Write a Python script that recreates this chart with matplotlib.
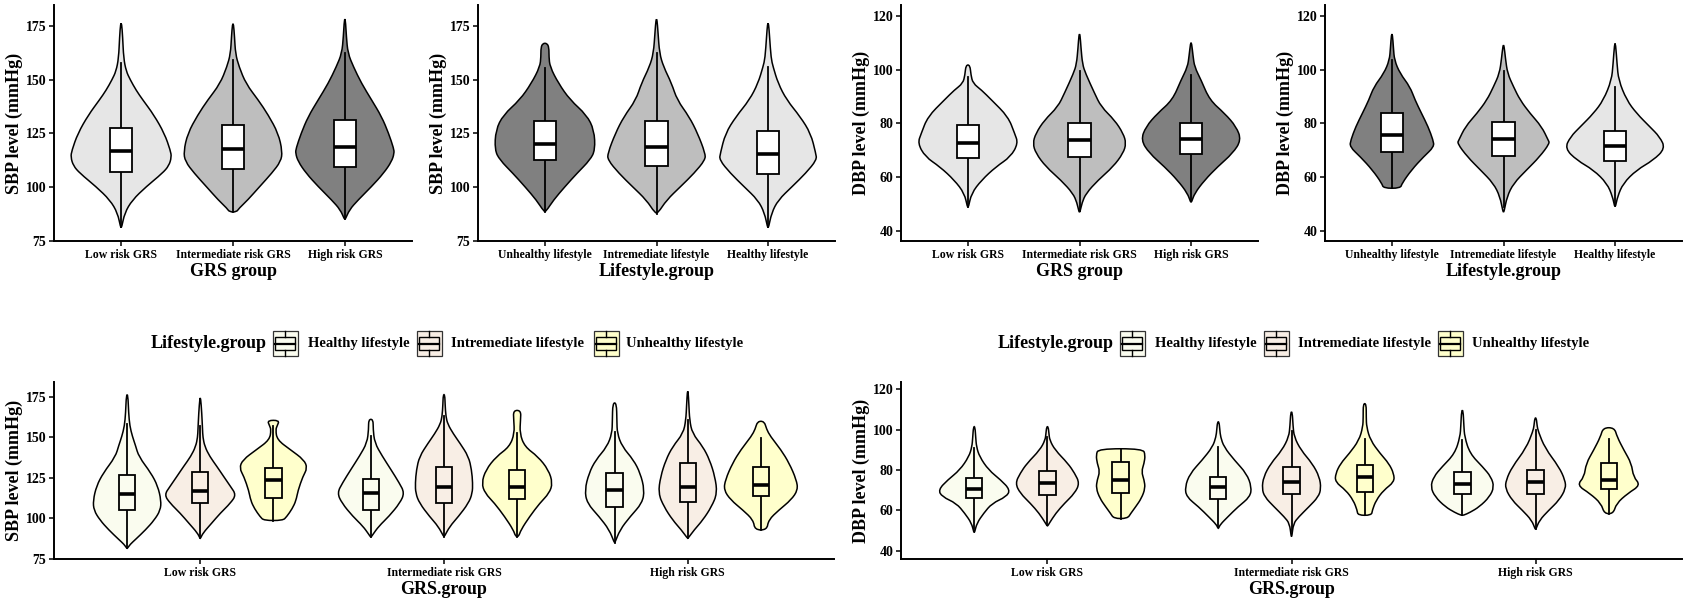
import numpy as np
import matplotlib
matplotlib.use("Agg")
import matplotlib.pyplot as plt
from matplotlib.path import Path
from matplotlib.patches import PathPatch, Rectangle

plt.rcParams['font.family'] = ['Liberation Serif', 'DejaVu Serif']
plt.rcParams['font.weight'] = 'bold'

# ---- categories ----
grs_groups = ["Low risk GRS", "Intermediate risk GRS", "High risk GRS"]
lifestyle_top = ["Unhealthy lifestyle", "Intremediate lifestyle", "Healthy lifestyle"]
lifestyle_groups = ["Healthy lifestyle", "Intremediate lifestyle", "Unhealthy lifestyle"]

grey_fills = ["#E6E6E6", "#BEBEBE", "#808080"]          # low / intermediate / high
lifestyle_fills = ["#FAFCEF", "#F8EEE5", "#FFFFCC"]     # healthy / intermediate / unhealthy

# ---- box statistics: [whisker low, Q1, median, Q3, whisker high] ----
sbp_grs_box = [[81.5, 107.3, 116.9, 127.7, 157.6],
               [88.5, 108.3, 117.8, 128.8, 159.2],
               [85.1, 109.6, 118.9, 131.3, 162.3]]
sbp_life_box = [[88.7, 112.7, 120.1, 130.8, 155.3],
                [87.5, 109.9, 118.9, 130.8, 162.3],
                [81.5, 106.2, 115.5, 126.2, 156.1]]
dbp_grs_box = [[49.0, 67.3, 72.8, 79.4, 97.3],
               [47.5, 67.6, 73.8, 80.3, 99.6],
               [51.0, 68.5, 74.1, 80.3, 98.0]]
dbp_life_box = [[56.0, 69.2, 75.7, 84.0, 103.5],
                [49.0, 68.0, 74.1, 80.6, 99.4],
                [50.0, 66.1, 71.7, 77.3, 93.4]]
# bottom panels: per GRS group, per lifestyle (healthy, intermediate, unhealthy)
sbp_both_box = [[[82.0, 105.3, 115.2, 126.9, 157.9], [88.0, 109.4, 117.0, 128.3, 157.0], [98.7, 112.5, 123.8, 131.0, 156.7]],
                [[88.6, 105.4, 115.7, 124.0, 150.7], [88.8, 109.7, 119.6, 131.5, 162.8], [88.8, 112.0, 119.2, 129.9, 152.4]],
                [[85.1, 107.2, 117.5, 128.2, 153.4], [87.8, 110.3, 119.6, 134.0, 160.6], [92.9, 113.8, 120.6, 131.5, 149.6]]]
dbp_both_box = [[[51.0, 66.0, 70.6, 75.9, 90.7], [53.0, 67.7, 73.7, 79.5, 96.5], [56.0, 68.5, 75.1, 84.1, 90.5]],
                [[52.0, 65.9, 71.4, 76.3, 91.4], [50.0, 68.1, 74.2, 81.6, 99.1], [57.6, 69.2, 76.6, 82.7, 95.5]],
                [[57.6, 67.9, 73.3, 79.0, 94.7], [51.0, 68.1, 74.2, 80.0, 99.9], [58.4, 70.5, 74.9, 83.5, 95.5]]]

# ---- violin density profiles: (value, relative density) from top to bottom ----
sbp_grs_violin = [
    [(176.2, .01), (170, .03), (160, .05), (154, .1), (150, .18), (145, .3), (140.6, .43), (133.6, .65), (125, .86),
     (117, .98), (114, 1.0), (110, .95), (106.5, .82), (100.3, .5), (94, .22), (88, .07), (81.2, .01)],
    [(176, .01), (170, .03), (162, .05), (156, .12), (148, .26), (140.6, .5), (133.6, .7), (125, .9), (116.6, .98),
     (112, .95), (106.5, .77), (100.3, .53), (94, .29), (90.2, .12), (88.5, .07)],
    [(178.1, .01), (170, .03), (162.3, .06), (156, .17), (148.3, .33), (140.6, .53), (132.8, .73), (125, .87),
     (118, .97), (115.8, .98), (112, .93), (106.5, .77), (100.3, .53), (94, .26), (89.5, .09), (85.1, .01)]]
sbp_life_violin = [
    [(166.9, .04), (165, .08), (160.7, .08), (156, .1), (148.3, .27), (140.6, .5), (133.6, .83), (126.6, .98),
     (117.3, 1.0), (112.7, .9), (106.5, .64), (100.3, .4), (94, .17), (88.7, .02)],
    [(178.1, .01), (172, .03), (162.3, .06), (156, .14), (148.3, .3), (140.6, .41), (132.8, .65), (125, .82),
     (115.8, .97), (112.7, .97), (106.5, .75), (100.3, .48), (94, .2), (88, .03)],
    [(176.2, .01), (170, .03), (160, .06), (156, .1), (148.3, .2), (140.6, .37), (132.8, .64), (125, .85),
     (115.8, .95), (112.7, .97), (106.5, .75), (100.3, .48), (94, .2), (88, .07), (81.2, .01)]]
dbp_grs_violin = [
    [(101.7, .04), (98, .06), (94.9, .1), (92.4, .27), (88.7, .47), (82.5, .8), (76.3, .93), (72.6, 1.0),
     (67.6, .85), (63.9, .56), (58.9, .27), (54, .07), (48.8, .01)],
    [(113.2, .01), (108, .03), (102, .06), (98.6, .12), (91.2, .3), (86.2, .43), (81.2, .7), (76.3, .87),
     (72.6, .93), (68.9, .87), (63.9, .67), (58.9, .37), (54, .13), (50.5, .05), (47, .01)],
    [(110, .01), (105, .04), (101, .07), (96.1, .2), (88.7, .37), (83.7, .67), (78.8, .9), (73.8, 1.0),
     (68.9, .83), (63.9, .53), (58.9, .27), (54, .07), (50.7, .01)]]
dbp_life_violin = [
    [(113.2, .01), (108, .03), (103.5, .05), (98.6, .16), (93.6, .36), (88.7, .46), (83.7, .59), (78.8, .72),
     (73.8, .82), (71.3, .84), (67.6, .63), (62.7, .39), (57.7, .2), (55.9, .17)],
    [(109.1, .01), (104, .04), (98.6, .08), (93.6, .2), (88.7, .33), (83.7, .53), (78.8, .76), (73.8, .89),
     (72.6, .92), (67.6, .72), (62.7, .46), (57.7, .2), (52.8, .07), (47, .01)],
    [(109.7, .01), (102, .04), (96.1, .07), (88.7, .23), (83.7, .43), (78.8, .69), (75, .89), (70.7, 1.0),
     (66.3, .76), (62.7, .43), (57.7, .16), (52.8, .05), (49.1, .01)]]
sbp_both_violin = [
    [[(176.2, .02), (165, .04), (157, .07), (150.5, .14), (145, .22), (138, .31), (128, .63), (120, .81), (111, .9),
      (105, .88), (99, .72), (93, .49), (87, .22), (84, .08), (81.6, .01)],
     [(174.2, .01), (165, .04), (155, .06), (150, .07), (144.3, .12), (138.2, .25), (132, .44), (125.8, .62),
      (119.7, .8), (114.5, .95), (109.4, .8), (103.2, .53), (97, .3), (90.9, .07), (87.8, .01)],
     [(160.4, .16), (157, .1), (154.6, .06), (148.4, .1), (142.3, .45), (136.1, .81), (131, .9), (125.8, .78),
      (117, .65), (111, .6), (106, .5), (101, .35), (98.7, .25)]],
    [[(161, .06), (155, .06), (146.6, .1), (138.4, .3), (130.1, .53), (121.9, .75), (115.7, .89), (109.5, .77),
      (101.3, .48), (95.2, .21), (90, .05), (88.6, .01)],
     [(176.2, .02), (170, .03), (162.8, .05), (158, .1), (152, .25), (146.4, .42), (138.1, .65), (129.9, .73),
      (121.7, .76), (115.5, .75), (109.4, .65), (101.1, .38), (95, .15), (88.8, .01)],
     [(166.5, .1), (160.6, .09), (152.4, .07), (144.2, .2), (138.1, .55), (129.9, .83), (121.7, .94), (115.5, .85),
      (109.4, .6), (101.1, .33), (92.9, .1), (88.8, .04)]],
    [[(171.1, .05), (160, .06), (152.4, .07), (144.2, .2), (136, .5), (127.8, .68), (117.5, .79), (109.4, .73),
      (101.1, .41), (92.9, .14), (85.1, .01)],
     [(178.3, .01), (170, .03), (160.6, .05), (152.4, .12), (144.2, .4), (136, .58), (125.7, .72), (115.5, .78),
      (107.2, .63), (99, .4), (92.9, .17), (87.8, .01)],
     [(159.8, .09), (155, .15), (150.6, .25), (142.3, .53), (134, .75), (123.8, .94), (117.5, .98), (111.4, .8),
      (105.2, .48), (99, .2), (92.9, .16)]]]
dbp_both_violin = [
    [[(101.4, .02), (96, .04), (91.5, .06), (86.6, .14), (80, .38), (75.1, .7), (70.2, .95), (66.8, .85),
      (63.5, .47), (58.6, .25), (53.7, .07), (49.1, .01)],
     [(101.4, .02), (98, .04), (94.8, .06), (89.9, .2), (83.3, .54), (78.4, .72), (73.4, .85), (68.5, .72),
      (63.5, .45), (58.6, .22), (53.7, .05), (52.4, .01)],
     [(90.5, .59), (87.4, .65), (83.3, .62), (79.2, .55), (75.1, .62), (71, .65), (66, .55), (61.9, .4),
      (58.6, .27), (56, .18)]],
    [[(103.8, .02), (100, .04), (96.4, .06), (91.4, .15), (84.8, .43), (78.2, .75), (71.6, .88), (66.7, .84),
      (61.8, .52), (56.8, .25), (53, .05), (51.2, .01)],
     [(108.7, .02), (102, .04), (96.4, .07), (89.8, .25), (83.2, .55), (76.6, .74), (70.8, .78), (66.7, .71),
      (61.8, .46), (56.8, .19), (53.5, .05), (47.1, .01)],
     [(112.8, .04), (106, .04), (101.3, .05), (94.7, .15), (88.1, .41), (83.2, .64), (78.2, .77), (74.1, .78),
      (70, .5), (65, .3), (60.1, .2), (57.6, .18)]],
    [[(109.5, .02), (102, .04), (96.4, .06), (88.1, .2), (81.5, .54), (76.6, .76), (71.6, .84), (66.7, .72),
      (61.8, .45), (59, .2), (57.6, .03)],
     [(105.7, .02), (102, .04), (99.1, .07), (90.8, .25), (81.5, .62), (75, .78), (70.8, .8), (65, .62),
      (60.1, .35), (55.1, .1), (50.7, .01)],
     [(100.9, .15), (96.4, .22), (89.8, .4), (83.2, .6), (76.6, .65), (72.5, .84), (68.4, .5), (63.4, .2),
      (58.4, .12)]]]

sbp_ticks = [75, 100, 125, 150, 175]
dbp_ticks = [40, 60, 80, 100, 120]

W, H = 1687, 602
fig = plt.figure(figsize=(W / 100, H / 100), dpi=100)


def add_axes(x0, x1, y0, y1):
    # pixel box -> figure fraction
    return fig.add_axes([x0 / W, 1 - y1 / H, (x1 - x0) / W, (y1 - y0) / H])


def draw_violin(ax, xc, profile, half, fill):
    pts = [(xc + d * half, v) for v, d in profile] + [(xc - d * half, v) for v, d in profile[::-1]]
    n = len(pts)
    mids = [((pts[i][0] + pts[(i + 1) % n][0]) / 2, (pts[i][1] + pts[(i + 1) % n][1]) / 2) for i in range(n)]
    verts = [mids[-1]]
    codes = [Path.MOVETO]
    for i in range(n):
        verts += [pts[i], mids[i]]
        codes += [Path.CURVE3, Path.CURVE3]
    verts.append(mids[-1])
    codes.append(Path.CLOSEPOLY)
    ax.add_patch(PathPatch(Path(verts, codes), facecolor=fill, edgecolor='black', lw=1.1, zorder=2))


def draw_box(ax, xc, stats, bw, fill):
    lo, q1, med, q3, hi = stats
    ax.plot([xc, xc], [lo, q1], color='black', lw=1.3, zorder=3)
    ax.plot([xc, xc], [q3, hi], color='black', lw=1.3, zorder=3)
    ax.add_patch(Rectangle((xc - bw / 2, q1), bw, q3 - q1, facecolor=fill, edgecolor='black', lw=1.3, zorder=4))
    ax.plot([xc - bw / 2, xc + bw / 2], [med, med], color='black', lw=2.6, zorder=5, solid_capstyle='butt')


def style_axes(ax, ylim, yticks, labels, xlabel, ylabel):
    ax.set_xlim(0.4, 3.6)
    ax.set_ylim(*ylim)
    ax.set_yticks(yticks)
    ax.set_xticks([1, 2, 3])
    ax.set_xticklabels(labels, fontsize=8.5, fontweight='bold')
    ax.tick_params(axis='y', labelsize=10, length=3.5, width=1.1, pad=2)
    ax.tick_params(axis='x', length=3.5, width=1.1, pad=2.5)
    for lab in ax.get_yticklabels():
        lab.set_fontweight('bold')
    for s in ['top', 'right']:
        ax.spines[s].set_visible(False)
    for s in ['left', 'bottom']:
        ax.spines[s].set_linewidth(1.4)
    ax.set_xlabel(xlabel, fontsize=13, fontweight='bold', labelpad=1)
    ax.set_ylabel(ylabel, fontsize=13, fontweight='bold', labelpad=2)


# ---- top row ----
top_panels = [
    ((54, 412), sbp_grs_violin, sbp_grs_box, grey_fills, grs_groups, "GRS group", "SBP level (mmHg)", (75, 184.7), sbp_ticks),
    ((478, 835), sbp_life_violin, sbp_life_box, grey_fills[::-1], lifestyle_top, "Lifestyle.group", "SBP level (mmHg)", (75, 184.7), sbp_ticks),
    ((901, 1258), dbp_grs_violin, dbp_grs_box, grey_fills, grs_groups, "GRS group", "DBP level (mmHg)", (36.3, 124), dbp_ticks),
    ((1325, 1682), dbp_life_violin, dbp_life_box, grey_fills[::-1], lifestyle_top, "Lifestyle.group", "DBP level (mmHg)", (36.3, 124), dbp_ticks),
]
for (x0, x1), violins, boxes, fills, labels, xl, yl, ylim, yt in top_panels:
    ax = add_axes(x0, x1, 5, 241)
    for i in range(3):
        draw_violin(ax, i + 1, violins[i], 0.45, fills[i])
        draw_box(ax, i + 1, boxes[i], 0.2, 'white')
    style_axes(ax, ylim, yt, labels, xl, yl)

# ---- bottom row ----
bottom_panels = [
    ((54, 834), sbp_both_violin, sbp_both_box, "SBP level (mmHg)", (75, 184), sbp_ticks),
    ((901, 1682), dbp_both_violin, dbp_both_box, "DBP level (mmHg)", (36, 123.5), dbp_ticks),
]
offsets = [-0.3, 0.0, 0.3]
for (x0, x1), violins, boxes, yl, ylim, yt in bottom_panels:
    ax = add_axes(x0, x1, 382, 559)
    for g in range(3):
        for k in range(3):
            xc = g + 1 + offsets[k]
            draw_violin(ax, xc, violins[g][k], 0.155, lifestyle_fills[k])
            draw_box(ax, xc, boxes[g][k], 0.067, lifestyle_fills[k])
    style_axes(ax, ylim, yt, grs_groups, "GRS.group", yl)

# ---- legends (drawn on an overlay in pixel coordinates) ----
ov = fig.add_axes([0, 0, 1, 1], zorder=10)
ov.set_xlim(0, W)
ov.set_ylim(H, 0)
ov.axis('off')
ov.patch.set_alpha(0)

legend_y = 343.5
key_size = 25
legend_layouts = [
    (151, [273, 417, 594], [308, 451, 626]),
    (998, [1120, 1264, 1438], [1155, 1298, 1472]),
]
for title_x, key_xs, label_xs in legend_layouts:
    ov.text(title_x, legend_y, "Lifestyle.group", fontsize=13, fontweight='bold', va='center', ha='left')
    for kx, lx, name, fill in zip(key_xs, label_xs, lifestyle_groups, lifestyle_fills):
        ky = legend_y - key_size / 2
        ov.add_patch(Rectangle((kx, ky), key_size, key_size, facecolor=fill, edgecolor='#333333', lw=0.9))
        ov.add_patch(Rectangle((kx + 2.5, ky + 6), key_size - 5, key_size - 12, facecolor=fill,
                               edgecolor='black', lw=1.0))
        ov.plot([kx + 2.5, kx + key_size - 2.5], [legend_y, legend_y], color='black', lw=1.6)
        ov.plot([kx + key_size / 2] * 2, [ky, ky + 6], color='black', lw=1.0)
        ov.plot([kx + key_size / 2] * 2, [ky + key_size - 6, ky + key_size], color='black', lw=1.0)
        ov.text(lx, legend_y, name, fontsize=10.5, fontweight='bold', va='center', ha='left')

fig.savefig("out.png", dpi=100)
